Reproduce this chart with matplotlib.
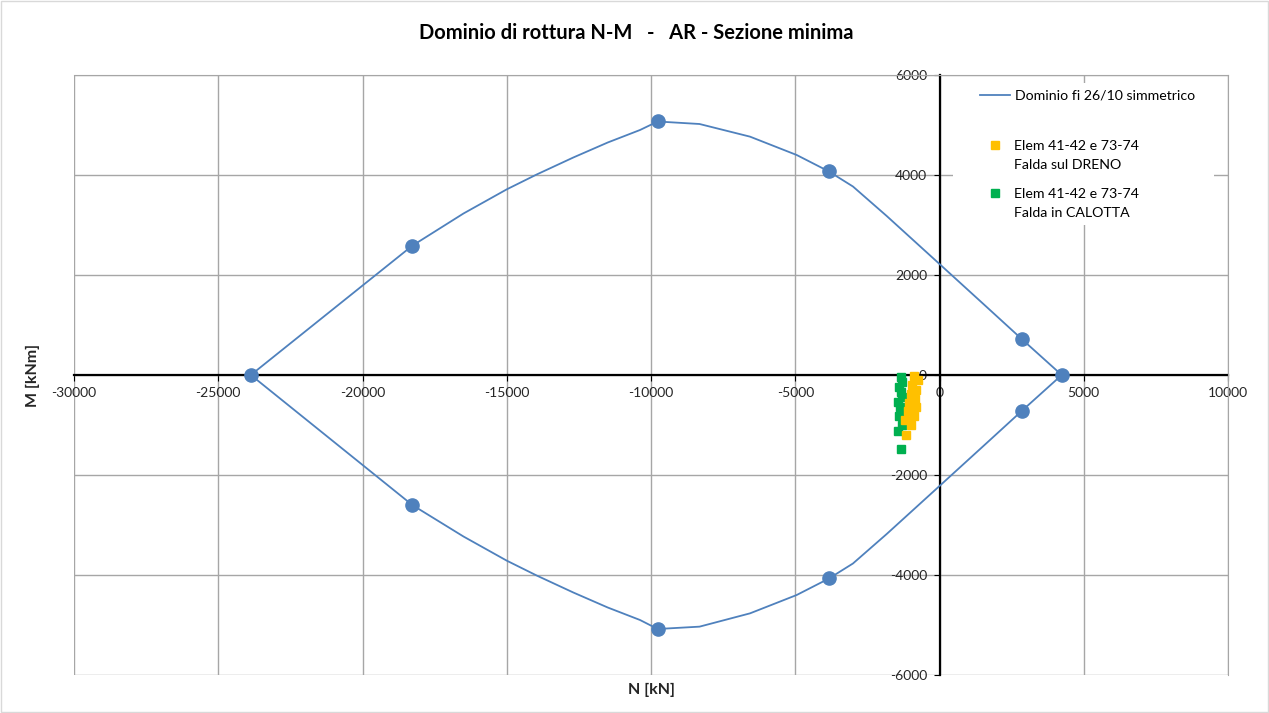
import matplotlib.pyplot as plt
from matplotlib.patches import Rectangle
from matplotlib.lines import Line2D

plt.rcParams['font.family'] = ['Lato', 'DejaVu Sans']
plt.rcParams['axes.unicode_minus'] = False

# Dominio di rottura (giro chiuso: ramo superiore sx->dx, poi inferiore dx->sx)
dom_N = [-23870, -18274, -16500, -15000, -13963, -12693, -11500, -10381,
         -9768, -8318, -6568, -4950, -3841, -3000, -1830, 0, 1636, 2849, 4236,
         2849, 1636, 0, -1830, -3000, -3841, -4950, -6568, -8318, -9768,
         -10381, -11500, -12693, -13963, -15000, -16500, -18274, -23870]
dom_M = [0, 2586, 3230, 3713, 4010, 4350, 4650, 4900,
         5070, 5020, 4767, 4400, 4073, 3770, 3180, 2220, 1360, 720, 0,
         -720, -1360, -2220, -3180, -3770, -4073, -4400, -4767, -5033, -5080,
         -4900, -4650, -4350, -4010, -3713, -3230, -2600, 0]

# punti notevoli del dominio
key_N = [-23870, -18274, -9768, -3841, 2849, 4236, 2849, -3841, -9768, -18274]
key_M = [0, 2586, 5080, 4073, 720, 0, -720, -4067, -5080, -2600]

# Elem 41-42 e 73-74 - Falda sul DRENO
dreno_N = [-900, -750, -950, -800, -1000, -850, -1050, -800, -1100, -900, -1200, -1000, -1150]
dreno_M = [-30, -100, -200, -300, -380, -480, -560, -650, -720, -830, -900, -1000, -1200]

# Elem 41-42 e 73-74 - Falda in CALOTTA
calotta_N = [-1350, -1300, -1400, -1350, -1300, -1450, -1380, -1250, -1420, -1300, -1450, -1350]
calotta_M = [-50, -150, -250, -350, -450, -550, -650, -750, -820, -1000, -1130, -1480]

x_ticks = [-30000, -25000, -20000, -15000, -10000, -5000, 0, 5000, 10000]
y_ticks = [-6000, -4000, -2000, 0, 2000, 4000, 6000]

blue = '#4F81BD'
yellow = '#FFC000'
green = '#00B050'
grid_col = '#A6A6A6'
txt_col = '#262626'

fig = plt.figure(figsize=(12.69, 7.13), dpi=100)
ax = fig.add_axes([74/1269, 1-675/713, 1154/1269, 600/713])

ax.plot(dom_N, dom_M, color=blue, lw=1.3, zorder=3)
ax.plot(key_N, key_M, ls='none', marker='o', ms=9.5, color=blue, zorder=4)
ax.plot(dreno_N, dreno_M, ls='none', marker='s', ms=6, color=yellow, zorder=5)
ax.plot(calotta_N, calotta_M, ls='none', marker='s', ms=6, color=green, zorder=4)

ax.set_xlim(-30000, 10000)
ax.set_ylim(-6000, 6000)
ax.set_xticks(x_ticks)
ax.set_yticks(y_ticks)
ax.grid(True, color=grid_col, lw=1.0)
ax.set_axisbelow(True)

# assi passanti per lo zero
for side in ['left', 'bottom']:
    ax.spines[side].set_position(('data', 0))
    ax.spines[side].set_color('black')
    ax.spines[side].set_linewidth(1.6)
    ax.spines[side].set_zorder(2)
ax.spines['top'].set_color(grid_col)
ax.spines['right'].set_color(grid_col)
ax.tick_params(axis='x', direction='out', length=4, pad=5, labelsize=10, labelcolor=txt_col)
ax.tick_params(axis='y', direction='out', length=4, pad=5, labelsize=10, labelcolor=txt_col)

# sfondo bianco della legenda
ax.add_patch(Rectangle((0.762, 0.75), 0.226, 0.237, transform=ax.transAxes,
                       facecolor='white', edgecolor='none', zorder=2.5))

leg_font = 10.2
h_line = Line2D([], [], color=blue, lw=1.3)
h_y = Line2D([], [], ls='none', marker='s', ms=6, color=yellow)
h_g = Line2D([], [], ls='none', marker='s', ms=6, color=green)
h_none = Line2D([], [], ls='none')

leg1 = ax.legend([h_line], ['Dominio fi 26/10 simmetrico'], loc='upper left',
                 bbox_to_anchor=(980/1269, 1-90/713), bbox_transform=fig.transFigure,
                 frameon=False, fontsize=leg_font, borderpad=0, borderaxespad=0,
                 handlelength=2.15, handletextpad=0.3)
ax.add_artist(leg1)
leg2 = ax.legend([h_y, h_none], ['Elem 41-42 e 73-74', 'Falda sul DRENO'], loc='upper left',
                 bbox_to_anchor=(987.5/1269, 1-140/713), bbox_transform=fig.transFigure,
                 frameon=False, fontsize=leg_font, borderpad=0, borderaxespad=0,
                 handlelength=1.0, handletextpad=0.9, labelspacing=0.5)
ax.add_artist(leg2)
ax.legend([h_g, h_none], ['Elem 41-42 e 73-74', 'Falda in CALOTTA'], loc='upper left',
          bbox_to_anchor=(987.5/1269, 1-188/713), bbox_transform=fig.transFigure,
          frameon=False, fontsize=leg_font, borderpad=0, borderaxespad=0,
          handlelength=1.0, handletextpad=0.9, labelspacing=0.5)

fig.text(636/1269, 1-33/713, 'Dominio di rottura N-M   -   AR - Sezione minima',
         ha='center', va='center', fontsize=14.5, fontweight='bold')
fig.text(33/1269, 1-375/713, 'M [kNm]', ha='center', va='center', rotation=90,
         fontsize=11.5, fontweight='bold', color=txt_col)
fig.text(652/1269, 1-690/713, 'N [kN]', ha='center', va='center',
         fontsize=11.5, fontweight='bold', color=txt_col)

# bordo del grafico
fig.add_artist(Rectangle((0.0008, 0.0014), 0.9984, 0.997, transform=fig.transFigure,
                         fill=False, edgecolor='#D9D9D9', lw=1))

plt.savefig('out.png', dpi=100)
